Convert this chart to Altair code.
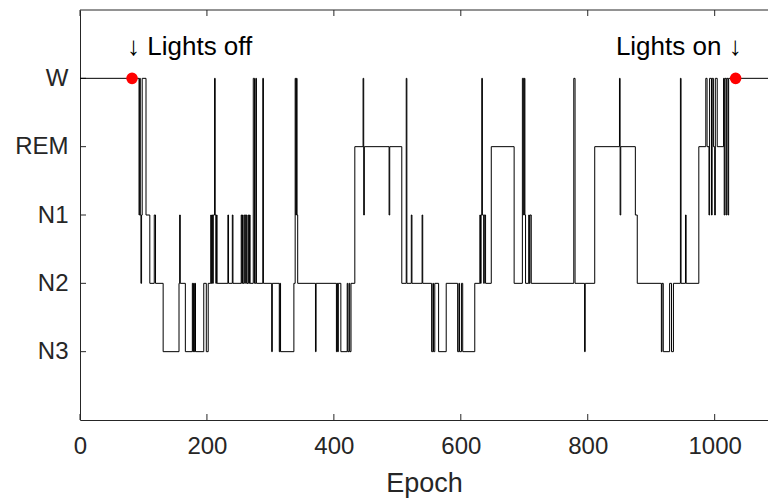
import altair as alt
import pandas as pd

# ---- data ----
stage_names = ["W", "REM", "N1", "N2", "N3"]
stage_levels = [5, 4, 3, 2, 1]
x_ticks = [0, 200, 400, 600, 800, 1000]
x_max = 1084

seg_start = [0, 93, 94, 95, 96, 97, 98, 104, 110, 117, 119, 131, 156, 157, 158, 166,
             177, 178, 179, 180, 181, 182, 195, 199, 202, 206, 207, 208, 209, 210, 212,
             213, 214, 215, 216, 233, 234, 240, 241, 254, 255, 256, 257, 259, 261, 262,
             263, 265, 266, 267, 268, 273, 275, 277, 278, 288, 289, 302, 303, 314, 315,
             316, 337, 339, 340, 341, 342, 343, 371, 372, 404, 405, 406, 407, 411, 421,
             422, 424, 425, 427, 433, 446, 447, 448, 487, 488, 507, 514, 515, 522, 523,
             539, 540, 554, 556, 557, 559, 565, 577, 595, 597, 598, 601, 603, 622, 630,
             631, 632, 633, 634, 636, 637, 639, 648, 684, 697, 699, 700, 701, 702, 707,
             708, 709, 711, 778, 780, 795, 796, 811, 850, 851, 852, 875, 878, 916, 917,
             919, 929, 932, 935, 946, 947, 954, 955, 975, 986, 988, 991, 992, 995, 996,
             998, 1000, 1001, 1004, 1014, 1015, 1016, 1018, 1019, 1021, 1022]
seg_stage = ["W", "N1", "W", "N1", "N2", "N1", "W", "N1", "N2", "N1", "N2", "N3", "N2", "N1", "N2", "N3",
             "N2", "N3", "N2", "N3", "N2", "N3", "N2", "N3", "N2", "N1", "N2", "N1", "N2", "N1", "W",
             "N1", "N2", "N1", "N2", "N1", "N2", "N1", "N2", "N1", "N2", "N1", "N2", "N1", "N2", "N1",
             "N2", "N1", "N2", "N1", "N2", "W", "N2", "W", "N2", "W", "N2", "N3", "N2", "N3", "N2",
             "N3", "N2", "W", "N1", "W", "N1", "N2", "N3", "N2", "N3", "N2", "N3", "N2", "N3", "N2",
             "N3", "N2", "N3", "N2", "REM", "W", "N1", "REM", "N1", "REM", "N2", "W", "N2", "N1", "N2",
             "N1", "N2", "N3", "N2", "N3", "N2", "N3", "N2", "N3", "N2", "N3", "N2", "N3", "N2", "N1",
             "N2", "N1", "W", "N1", "N2", "N1", "N2", "REM", "N2", "W", "N1", "W", "N1", "N2", "N1",
             "N2", "N1", "N2", "W", "N2", "N3", "N2", "REM", "W", "N1", "REM", "N1", "N2", "N3", "N2",
             "N3", "N2", "N3", "N2", "W", "N2", "N1", "N2", "REM", "W", "REM", "N1", "W", "N1", "W",
             "REM", "N1", "W", "REM", "W", "N1", "W", "N1", "W", "N1", "W"]

lights_epoch = [82, 1033]
lights_stage = ["W", "W"]
lights_text = ["\u2193 Lights off", "Lights on \u2193"]

# ---- tables ----
level_of = dict(zip(stage_names, stage_levels))
hyp = pd.DataFrame({
    "epoch": seg_start + [x_max],
    "level": [level_of[s] for s in seg_stage] + [level_of[seg_stage[-1]]],
})
lights = pd.DataFrame({
    "epoch": lights_epoch,
    "level": [level_of[s] for s in lights_stage],
    "text": lights_text,
})
yticks = pd.DataFrame({"level": stage_levels})
xticks = pd.DataFrame({"tick": x_ticks})

label_expr = "".join(
    f"datum.value == {lv} ? '{nm}' : " for nm, lv in zip(stage_names, stage_levels)
) + "''"

AX = "#262626"
FONT = "Liberation Sans"
W, H = 688, 410

xscale = alt.Scale(domain=[0, x_max], nice=False, zero=False)
yscale = alt.Scale(domain=[0, 6], nice=False)

line = alt.Chart(hyp).mark_line(
    interpolate="step-after", color="black", strokeWidth=1
).encode(
    x=alt.X("epoch:Q", scale=xscale,
            axis=alt.Axis(values=x_ticks, title="Epoch", format="d", ticks=False,
                          labelFlush=False,
                          domainColor=AX, labelColor=AX, titleColor=AX,
                          labelFont=FONT, titleFont=FONT, labelFontSize=24,
                          titleFontSize=27, titleFontWeight="normal",
                          labelPadding=14, titlePadding=12, grid=False)),
    y=alt.Y("level:Q", scale=yscale,
            axis=alt.Axis(values=stage_levels, labelExpr=label_expr, title=None,
                          ticks=False, domainColor=AX, labelColor=AX,
                          labelFont=FONT, labelFontSize=24, labelPadding=12,
                          grid=False)),
)

dots = alt.Chart(lights).mark_circle(color="#ff0000", opacity=1, size=135).encode(
    x=alt.X("epoch:Q", scale=xscale),
    y=alt.Y("level:Q", scale=yscale),
)

txt_off = alt.Chart(lights.iloc[[0]]).mark_text(
    align="left", baseline="middle", dx=-5, fontSize=26, font=FONT, color="black"
).encode(
    x=alt.X("epoch:Q", scale=xscale),
    y=alt.Y("lvl:Q", scale=yscale),
    text="text:N",
).transform_calculate(lvl="datum.level + 0.46")

txt_on = alt.Chart(lights.iloc[[1]]).mark_text(
    align="right", baseline="middle", dx=6, fontSize=26, font=FONT, color="black"
).encode(
    x=alt.X("epoch:Q", scale=xscale),
    y=alt.Y("lvl:Q", scale=yscale),
    text="text:N",
).transform_calculate(lvl="datum.level + 0.46")

left_ticks = alt.Chart(yticks).mark_rule(color=AX, strokeWidth=1).encode(
    y=alt.Y("level:Q", scale=yscale), x=alt.value(0), x2=alt.value(6)
)
bottom_ticks = alt.Chart(xticks).mark_rule(color=AX, strokeWidth=1).encode(
    x=alt.X("tick:Q", scale=xscale), y=alt.value(H), y2=alt.value(H - 6)
)
top_ticks = alt.Chart(xticks).mark_rule(color=AX, strokeWidth=1).encode(
    x=alt.X("tick:Q", scale=xscale), y=alt.value(0), y2=alt.value(6)
)
top_border = alt.Chart(xticks.iloc[[0]]).mark_rule(color=AX, strokeWidth=1).encode(
    y=alt.value(0), x=alt.value(0), x2=alt.value(W)
)

chart = alt.layer(
    top_border, left_ticks, bottom_ticks, top_ticks, line, dots, txt_off, txt_on
).properties(
    width=W, height=H,
    autosize=alt.AutoSizeParams(type="none"),
    padding={"left": 80, "top": 10, "right": 0, "bottom": 80},
    background="white",
).configure_view(stroke=None)

chart.save("out.html", embed_options={"renderer": "svg", "actions": False})
